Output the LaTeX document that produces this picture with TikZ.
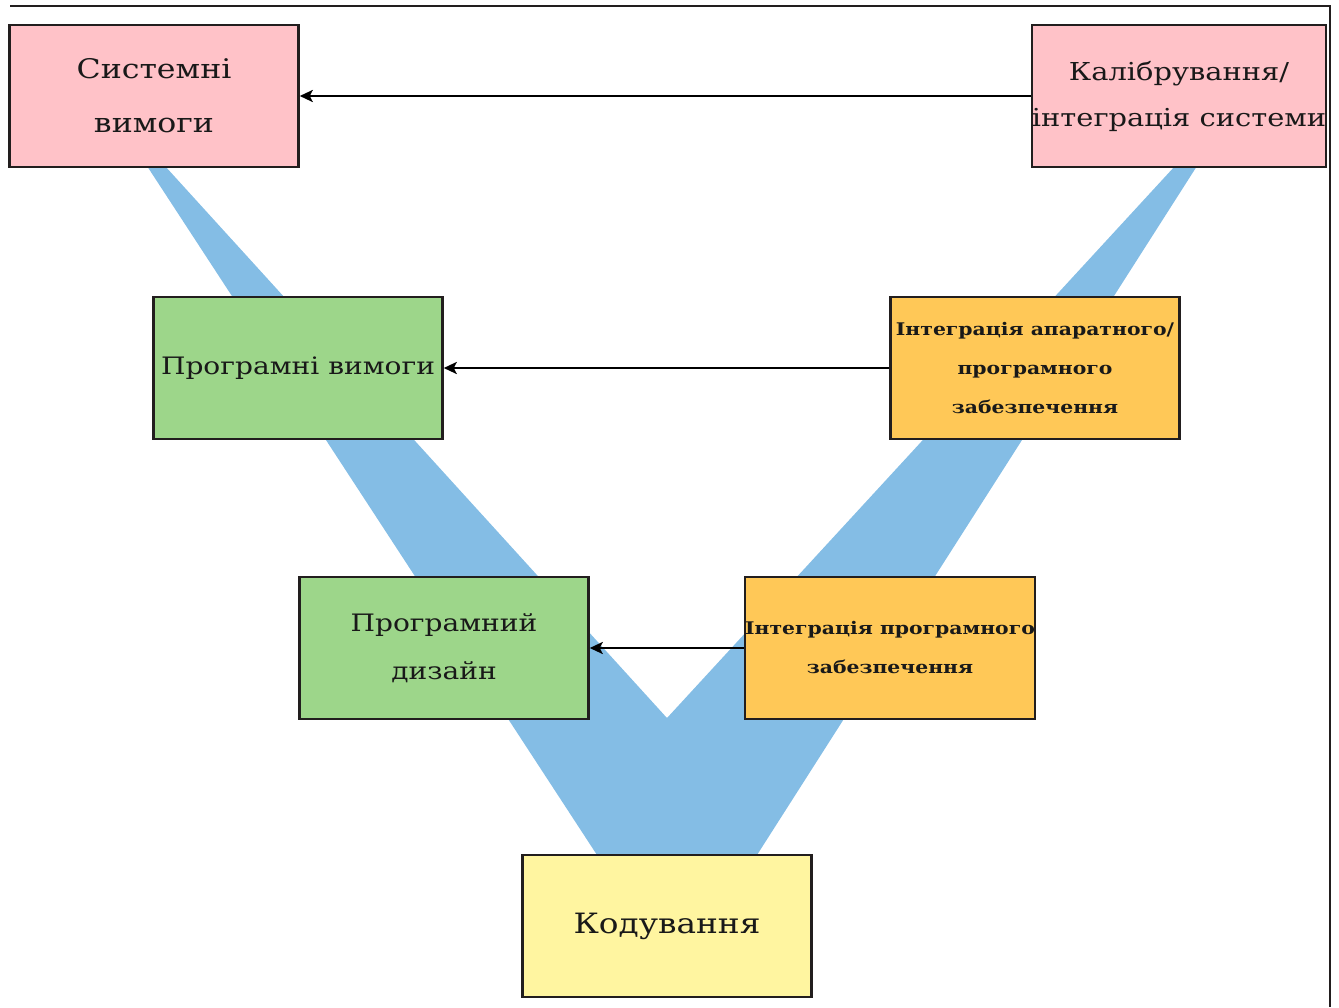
\documentclass[tikz,border=0pt]{standalone}
\usepackage{fontspec}
\setmainfont[FakeStretch=1.17]{DejaVu Serif}
\usetikzlibrary{arrows.meta}
\definecolor{pinkc}{RGB}{255,194,200}
\definecolor{greenc}{RGB}{157,214,138}
\definecolor{orangec}{RGB}{255,200,87}
\definecolor{yellowc}{RGB}{255,245,160}
\definecolor{bandc}{RGB}{132,189,229}
\definecolor{edgec}{RGB}{34,30,30}
\tikzset{
  stagebox/.style={draw=edgec, line width=2.5pt, minimum width=289pt, minimum height=142pt, inner sep=0pt, align=center, text=black!90},
  bigtext/.style={font=\fontsize{27}{54}\selectfont},
  midtext/.style={font=\fontsize{24.7}{46}\selectfont},
  smalltext/.style={font=\bfseries\fontsize{17.4}{39}\selectfont},
  conn/.style={draw=black, line width=2.5pt, -{Stealth[length=13pt,width=12pt,inset=3pt]}},
}
\begin{document}
\begin{tikzpicture}[x=1pt,y=-1pt]
\useasboundingbox (0,0) rectangle (1339,1007);
% frame remnants
\draw[edgec, line width=2pt] (10,6) -- (1330,6) -- (1330,1007);
% V band
\fill[bandc] (147,166) -- (165,166) -- (667,718) -- (1175,166) -- (1197,166) -- (757,855) -- (597,855) -- cycle;
% boxes
\node[stagebox, fill=pinkc, bigtext] (sys) at (154,96) {Системні\\вимоги};
\node[stagebox, fill=pinkc, midtext, minimum width=292pt] (cal) at (1179,96) {Калібрування/\\інтеграція системи};
\node[stagebox, fill=greenc, font=\fontsize{24}{48}\selectfont] (swreq) at (298,368) {Програмні вимоги};
\node[stagebox, fill=orangec, smalltext] (hwsw) at (1035,368) {Інтеграція апаратного/\\програмного\\забезпечення};
\node[stagebox, fill=greenc, font=\fontsize{24}{48}\selectfont] (design) at (444,648) {Програмний\\дизайн};
\node[stagebox, fill=orangec, smalltext] (swint) at (890,648) {Інтеграція програмного\\забезпечення};
\node[stagebox, fill=yellowc, font=\fontsize{28}{54}\selectfont] (code) at (667,926) {Кодування};
% connectors
\draw[conn] (cal.west) -- (sys.east);
\draw[conn] (hwsw.west) -- (swreq.east);
\draw[conn] (swint.west) -- (design.east);
\end{tikzpicture}
\end{document}
